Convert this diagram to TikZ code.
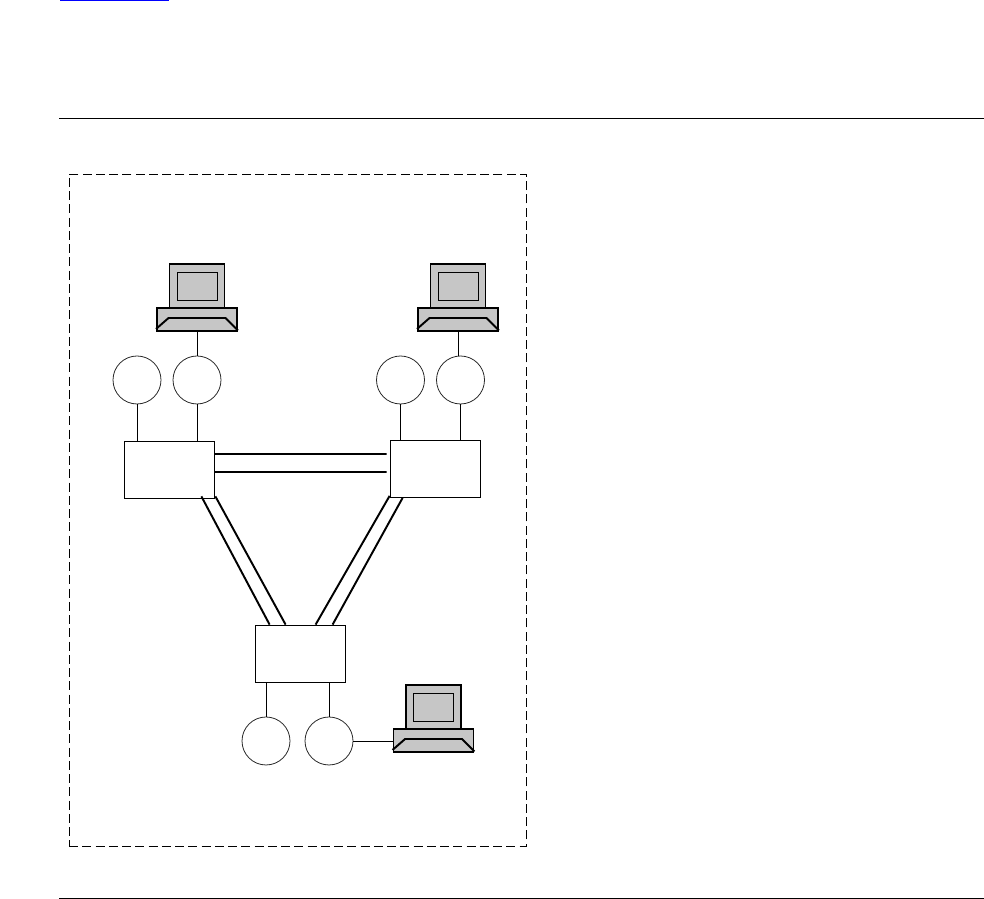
\documentclass[tikz,border=0pt]{standalone}
\usepackage{xcolor}
\usetikzlibrary{positioning}
\definecolor{pcgrey}{HTML}{C6C6C6}
\definecolor{linkblue}{HTML}{0000FF}
\tikzset{
	rule/.style={draw, line width=0.45pt},
	frame/.style={draw, line width=0.45pt, dash pattern=on 0.18cm off 0.085cm},
	switchbox/.style={draw, line width=0.45pt, minimum width=1.8cm, minimum height=1.14cm, inner sep=0pt},
	port/.style={draw, circle, line width=0.45pt, draw=black!85, minimum size=0.96cm, inner sep=0pt},
	wire/.style={draw, line width=0.5pt},
	trunk/.style={draw, line width=1.1pt},
	computer/.pic={
		\node[draw, line width=1.1pt, fill=pcgrey, minimum width=1.1cm, minimum height=0.88cm, inner sep=0pt] (-monitor) at (0,0.67) {};
		\node[draw, line width=0.5pt, minimum width=0.8cm, minimum height=0.56cm, inner sep=0pt] (-screen) at (0,0.67) {};
		\node[draw, line width=1.1pt, fill=pcgrey, minimum width=1.6cm, minimum height=0.46cm, inner sep=0pt] (-base) at (0,0) {};
		\draw[line width=1.1pt] ([yshift=0.06cm]-base.south west) -- ([xshift=0.25cm,yshift=-0.22cm]-base.north west) -- ([xshift=-0.25cm,yshift=-0.22cm]-base.north east) -- ([yshift=0.03cm]-base.south east);
	}
}
\begin{document}
\begin{tikzpicture}
		\useasboundingbox (0,0) rectangle (19.68,17.98);
		
		\coordinate (linkl) at (1.2,17.97);
		\coordinate (linkr) at (3.38,17.97);
		\coordinate (topl) at (1.18,15.62);
		\coordinate (topr) at (19.68,15.62);
		\coordinate (botl) at (1.18,0.02);
		\coordinate (botr) at (19.68,0.02);
		\draw[line width=0.8pt, linkblue] (linkl) -- (linkr);
		\draw[rule] (topl) -- (topr);
		\draw[rule] (botl) -- (botr);
		
		\node[frame, minimum width=9.14cm, minimum height=13.44cm] (network) at (5.95,7.78) {};
		
		\node[switchbox] (swa) at (3.38,8.59) {};
		\node[switchbox] (swb) at (8.7,8.6) {};
		\node[switchbox] (swc) at (6,4.91) {};
		
		\node[port] (porta) at (2.74,10.38) {};
		\node[port] (portb) at (3.94,10.38) {};
		\node[port] (portc) at (8.01,10.38) {};
		\node[port] (portd) at (9.21,10.38) {};
		\node[port] (porte) at (5.32,3.16) {};
		\node[port] (portf) at (6.58,3.16) {};
		
		\pic (pca) at (3.94,11.59) {computer};
		\pic (pcb) at (9.16,11.59) {computer};
		\pic (pcc) at (8.67,3.17) {computer};
		
		\draw[wire] (porta.south) -- (porta.south |- swa.north);
		\draw[wire] (portb.south) -- (portb.south |- swa.north);
		\draw[wire] (portc.south) -- (portc.south |- swb.north);
		\draw[wire] (portd.south) -- (portd.south |- swb.north);
		\draw[wire] (porte.north) -- (porte.north |- swc.south);
		\draw[wire] (portf.north) -- (portf.north |- swc.south);
		\draw[wire] (pca-base.south) -- (pca-base.south |- portb.north);
		\draw[wire] (pcb-base.south) -- (pcb-base.south |- portd.north);
		\draw[wire] (portf.east) -- (portf.east -| pcc-base.west);
		
		\draw[trunk] ([yshift=0.31cm]swa.east) -- ([xshift=-0.06cm,yshift=0.3cm]swb.west);
		\draw[trunk] ([yshift=-0.05cm]swa.east) -- ([xshift=-0.06cm,yshift=-0.06cm]swb.west);
		\draw[trunk] ([xshift=-0.26cm,yshift=0.04cm]swa.south east) -- ([xshift=0.3cm]swc.north west);
		\draw[trunk] ([xshift=0.02cm,yshift=0.04cm]swa.south east) -- ([xshift=0.62cm]swc.north west);
		\draw[trunk] ([yshift=0.04cm]swb.south west) -- ([xshift=1.22cm]swc.north west);
		\draw[trunk] ([xshift=0.26cm]swb.south west) -- ([xshift=1.56cm]swc.north west);
	\end{tikzpicture}
\end{document}
